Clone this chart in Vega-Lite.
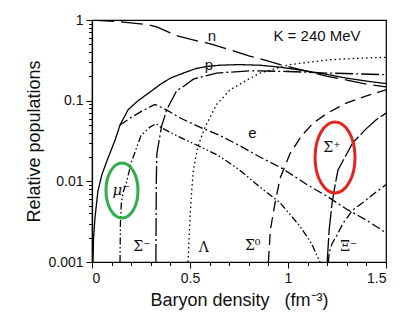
{
  "$schema": "https://vega.github.io/schema/vega-lite/v6.json",
  "autosize": {"type": "none"},
  "padding": {"left": 92, "top": 20, "right": 29, "bottom": 73},
  "width": 294,
  "height": 242,
  "background": "white",
  "config": {
    "view": {"stroke": "black", "strokeWidth": 1.2},
    "axis": {"domainColor": "black", "tickColor": "black", "labelColor": "#111", "titleColor": "#111", "labelFont": "Liberation Sans", "titleFont": "Liberation Sans", "grid": false, "domainWidth": 1.2, "tickWidth": 1}
  },
  "datasets": {
    "curves": [
      {"s":"n","x":0,"y":1.0},{"s":"n","x":0.143,"y":0.95},{"s":"n","x":0.28,"y":0.88},{"s":"n","x":0.33,"y":0.82},{"s":"n","x":0.44,"y":0.63},{"s":"n","x":0.55,"y":0.54},{"s":"n","x":0.6,"y":0.51},{"s":"n","x":0.7,"y":0.43},{"s":"n","x":0.8,"y":0.36},{"s":"n","x":0.9,"y":0.31},{"s":"n","x":0.96,"y":0.28},{"s":"n","x":1.1,"y":0.23},{"s":"n","x":1.2,"y":0.2},{"s":"n","x":1.3,"y":0.18},{"s":"n","x":1.4,"y":0.16},{"s":"n","x":1.5,"y":0.148},
      {"s":"p","x":0.005,"y":0.001},{"s":"p","x":0.008,"y":0.002},{"s":"p","x":0.015,"y":0.0035},{"s":"p","x":0.03,"y":0.0075},{"s":"p","x":0.05,"y":0.012},{"s":"p","x":0.08,"y":0.019},{"s":"p","x":0.117,"y":0.032},{"s":"p","x":0.143,"y":0.05},{"s":"p","x":0.184,"y":0.077},{"s":"p","x":0.235,"y":0.1},{"s":"p","x":0.3,"y":0.13},{"s":"p","x":0.35,"y":0.16},{"s":"p","x":0.4,"y":0.19},{"s":"p","x":0.466,"y":0.22},{"s":"p","x":0.53,"y":0.25},{"s":"p","x":0.585,"y":0.265},{"s":"p","x":0.65,"y":0.275},{"s":"p","x":0.75,"y":0.28},{"s":"p","x":0.857,"y":0.275},{"s":"p","x":0.96,"y":0.26},{"s":"p","x":1.06,"y":0.24},{"s":"p","x":1.16,"y":0.22},{"s":"p","x":1.3,"y":0.19},{"s":"p","x":1.4,"y":0.175},{"s":"p","x":1.5,"y":0.163},
      {"s":"e","x":0.143,"y":0.05},{"s":"e","x":0.2,"y":0.062},{"s":"e","x":0.25,"y":0.073},{"s":"e","x":0.32,"y":0.09},{"s":"e","x":0.38,"y":0.077},{"s":"e","x":0.45,"y":0.061},{"s":"e","x":0.55,"y":0.047},{"s":"e","x":0.643,"y":0.038},{"s":"e","x":0.75,"y":0.028},{"s":"e","x":0.857,"y":0.02},{"s":"e","x":0.97,"y":0.0145},{"s":"e","x":1.1,"y":0.009},{"s":"e","x":1.2,"y":0.0065},{"s":"e","x":1.3,"y":0.0045},{"s":"e","x":1.4,"y":0.0033},{"s":"e","x":1.5,"y":0.0023},
      {"s":"mu","x":0.143,"y":0.001},{"s":"mu","x":0.145,"y":0.003},{"s":"mu","x":0.15,"y":0.0055},{"s":"mu","x":0.16,"y":0.0075},{"s":"mu","x":0.175,"y":0.0095},{"s":"mu","x":0.2,"y":0.017},{"s":"mu","x":0.25,"y":0.037},{"s":"mu","x":0.296,"y":0.047},{"s":"mu","x":0.327,"y":0.052},{"s":"mu","x":0.355,"y":0.046},{"s":"mu","x":0.45,"y":0.035},{"s":"mu","x":0.551,"y":0.027},{"s":"mu","x":0.643,"y":0.021},{"s":"mu","x":0.75,"y":0.014},{"s":"mu","x":0.857,"y":0.0085},{"s":"mu","x":0.96,"y":0.0054},{"s":"mu","x":1.06,"y":0.0028},{"s":"mu","x":1.12,"y":0.0017},{"s":"mu","x":1.163,"y":0.001},
      {"s":"Sm","x":0.326,"y":0.001},{"s":"Sm","x":0.328,"y":0.01},{"s":"Sm","x":0.331,"y":0.022},{"s":"Sm","x":0.355,"y":0.048},{"s":"Sm","x":0.381,"y":0.077},{"s":"Sm","x":0.432,"y":0.133},{"s":"Sm","x":0.47,"y":0.152},{"s":"Sm","x":0.517,"y":0.185},{"s":"Sm","x":0.636,"y":0.22},{"s":"Sm","x":0.806,"y":0.235},{"s":"Sm","x":1.0,"y":0.23},{"s":"Sm","x":1.2,"y":0.22},{"s":"Sm","x":1.5,"y":0.21},
      {"s":"L","x":0.49,"y":0.001},{"s":"L","x":0.5,"y":0.0035},{"s":"L","x":0.508,"y":0.0071},{"s":"L","x":0.517,"y":0.0138},{"s":"L","x":0.54,"y":0.027},{"s":"L","x":0.577,"y":0.047},{"s":"L","x":0.636,"y":0.09},{"s":"L","x":0.704,"y":0.136},{"s":"L","x":0.79,"y":0.18},{"s":"L","x":0.857,"y":0.22},{"s":"L","x":1.01,"y":0.28},{"s":"L","x":1.2,"y":0.32},{"s":"L","x":1.35,"y":0.335},{"s":"L","x":1.5,"y":0.345},
      {"s":"S0","x":0.9,"y":0.001},{"s":"S0","x":0.91,"y":0.0025},{"s":"S0","x":0.934,"y":0.0054},{"s":"S0","x":0.96,"y":0.011},{"s":"S0","x":1.01,"y":0.022},{"s":"S0","x":1.07,"y":0.037},{"s":"S0","x":1.13,"y":0.053},{"s":"S0","x":1.2,"y":0.07},{"s":"S0","x":1.3,"y":0.094},{"s":"S0","x":1.4,"y":0.115},{"s":"S0","x":1.5,"y":0.136},
      {"s":"Sp","x":1.2,"y":0.001},{"s":"Sp","x":1.21,"y":0.0025},{"s":"Sp","x":1.225,"y":0.0054},{"s":"Sp","x":1.24,"y":0.009},{"s":"Sp","x":1.255,"y":0.0138},{"s":"Sp","x":1.275,"y":0.017},{"s":"Sp","x":1.3,"y":0.022},{"s":"Sp","x":1.33,"y":0.03},{"s":"Sp","x":1.4,"y":0.045},{"s":"Sp","x":1.45,"y":0.058},{"s":"Sp","x":1.5,"y":0.07},
      {"s":"X","x":1.206,"y":0.001},{"s":"X","x":1.21,"y":0.0013},{"s":"X","x":1.225,"y":0.0017},{"s":"X","x":1.248,"y":0.0021},{"s":"X","x":1.28,"y":0.003},{"s":"X","x":1.33,"y":0.0044},{"s":"X","x":1.4,"y":0.0059},{"s":"X","x":1.45,"y":0.0074},{"s":"X","x":1.5,"y":0.0091}
    ],
    "labels": [
      {"t":"n","kind":"sans","x":0.612,"y":0.63},
      {"t":"p","kind":"sans","x":0.596,"y":0.28},
      {"t":"K = 240 MeV","kind":"sans","x":1.148,"y":0.64},
      {"t":"e","kind":"sans","x":0.818,"y":0.0394},
      {"t":"Σ⁻","kind":"serif","x":0.255,"y":0.00155},
      {"t":"Λ","kind":"serif","x":0.571,"y":0.00148},
      {"t":"Σ⁰","kind":"serif","x":0.82,"y":0.0016},
      {"t":"Σ⁺","kind":"serif","x":1.224,"y":0.026},
      {"t":"Ξ⁻","kind":"serif","x":1.31,"y":0.00155},
      {"t":"μ⁻","kind":"italic","x":0.15,"y":0.0079}
    ],
    "rings": [
      {"ring":"green","x":0.153,"y":0.0077},
      {"ring":"red","x":1.24,"y":0.0198}
    ]
  },
  "layer": [
    {
      "data": {"name": "curves"},
      "mark": {"type": "line", "color": "black", "strokeWidth": 1.3, "clip": true},
      "encoding": {
        "x": {"field": "x", "type": "quantitative", "scale": {"domain": [0, 1.5], "nice": false},
              "axis": {"orient": "bottom", "values": [0, 0.5, 1, 1.5], "format": "~g", "tickSize": 6, "labelPadding": 3, "labelFontSize": 14, "title": "Baryon density\u00a0\u00a0\u00a0(fm⁻³)", "titleFontSize": 18, "titleFontWeight": "normal", "titlePadding": 6}},
        "y": {"field": "y", "type": "quantitative", "scale": {"type": "log", "domain": [0.001, 1], "nice": false},
              "axis": {"orient": "left", "values": [0.001, 0.01, 0.1, 1], "format": "~g", "tickSize": 6, "labelPadding": 3, "labelFontSize": 14, "title": "Relative populations", "titleFontSize": 18, "titleFontWeight": "normal", "titlePadding": 4}},
        "detail": {"field": "s"},
        "strokeDash": {"field": "s", "type": "nominal", "legend": null,
          "scale": {"domain": ["n","p","e","mu","Sm","L","S0","Sp","X"],
                    "range": [[22,7],[1,0],[9,3,2,3],[7,2.5,1.5,2.5,1.5,2.5],[18,3,2,3],[1.5,3],[11,6],[24,3],[8,3,2,3]]}}
      }
    },
    {
      "data": {"name": "rings"},
      "transform": [{"filter": "datum.ring == 'green'"}],
      "mark": {"type": "point", "filled": false, "stroke": "#2fae4a", "strokeWidth": 3, "opacity": 1, "size": 3025, "shape": "M0,-1A0.582,1,0,1,1,0,1A0.582,1,0,1,1,0,-1Z"},
      "encoding": {
        "x": {"field": "x", "type": "quantitative",
              "axis": {"orient": "bottom", "values": [0.1,0.2,0.3,0.4,0.6,0.7,0.8,0.9,1.1,1.2,1.3,1.4], "labels": false, "tickSize": 3.5, "title": null, "domain": false}},
        "y": {"field": "y", "type": "quantitative",
              "axis": {"orient": "left", "values": [0.002,0.003,0.004,0.005,0.006,0.007,0.008,0.009,0.02,0.03,0.04,0.05,0.06,0.07,0.08,0.09,0.2,0.3,0.4,0.5,0.6,0.7,0.8,0.9], "labels": false, "tickSize": 3.5, "title": null, "domain": false}}
      }
    },
    {
      "data": {"name": "rings"},
      "transform": [{"filter": "datum.ring == 'red'"}],
      "mark": {"type": "point", "filled": false, "stroke": "#e5231f", "strokeWidth": 3, "opacity": 1, "size": 5041, "shape": "M0,-1A0.563,1,0,1,1,0,1A0.563,1,0,1,1,0,-1Z"},
      "encoding": {
        "x": {"field": "x", "type": "quantitative", "axis": null},
        "y": {"field": "y", "type": "quantitative", "axis": null}
      }
    },
    {
      "data": {"name": "labels"},
      "transform": [{"filter": "datum.kind == 'sans'"}],
      "mark": {"type": "text", "font": "Liberation Sans", "fontSize": 15, "color": "#111", "align": "center", "baseline": "middle"},
      "encoding": {
        "x": {"field": "x", "type": "quantitative", "axis": null},
        "y": {"field": "y", "type": "quantitative", "axis": null},
        "text": {"field": "t"}
      }
    },
    {
      "data": {"name": "labels"},
      "transform": [{"filter": "datum.kind == 'serif'"}],
      "mark": {"type": "text", "font": "DejaVu Serif", "fontSize": 14, "color": "#111", "align": "center", "baseline": "middle"},
      "encoding": {
        "x": {"field": "x", "type": "quantitative", "axis": null},
        "y": {"field": "y", "type": "quantitative", "axis": null},
        "text": {"field": "t"}
      }
    },
    {
      "data": {"name": "labels"},
      "transform": [{"filter": "datum.kind == 'italic'"}],
      "mark": {"type": "text", "font": "DejaVu Serif", "fontStyle": "italic", "fontSize": 15, "color": "#111", "align": "center", "baseline": "middle"},
      "encoding": {
        "x": {"field": "x", "type": "quantitative", "axis": null},
        "y": {"field": "y", "type": "quantitative", "axis": null},
        "text": {"field": "t"}
      }
    }
  ],
  "resolve": {"axis": {"x": "independent", "y": "independent"}}
}
